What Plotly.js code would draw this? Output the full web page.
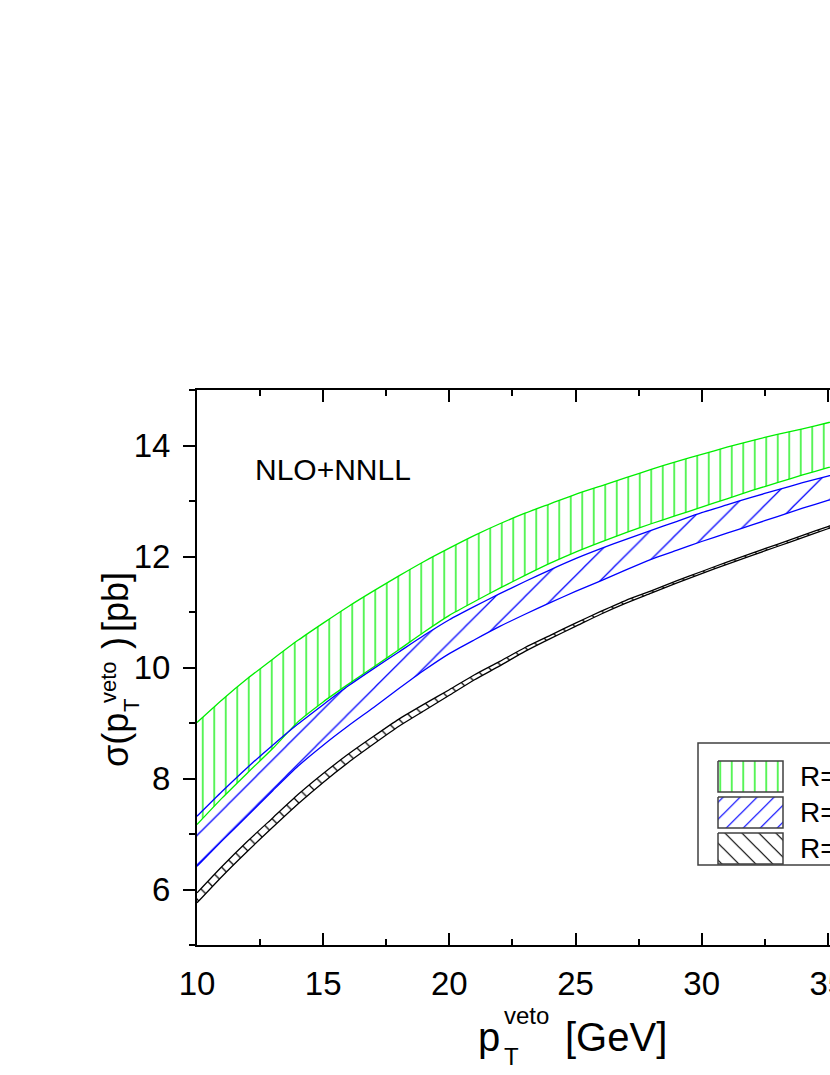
<!DOCTYPE html>
<html><head><meta charset="utf-8">
<script src="https://cdn.plot.ly/plotly-3.0.1.min.js"></script>
<style>
html,body{margin:0;padding:0;overflow:hidden;background:#fff;width:830px;height:1075px}
#plot{width:1014px;height:1075px}
</style>
</head><body><div id="plot"></div>
<script>
// ---- data ----
const ptVeto = [10,11,12,13,14,15,16,17,18,19,20,21,22,23,24,25,26,27,28,29,30,31,32,33,34,35,36,37,38,39,40];

const greenUpper = [9.01,9.42,9.80,10.15,10.49,10.80,11.10,11.38,11.65,11.91,12.15,12.38,12.59,12.78,12.95,13.12,13.27,13.42,13.57,13.71,13.84,13.97,14.09,14.20,14.30,14.41,14.51,14.61,14.70,14.79,14.88];
const greenLower = [7.17,7.65,8.10,8.54,9.02,9.38,9.70,10.01,10.32,10.64,10.94,11.19,11.43,11.66,11.88,12.08,12.26,12.43,12.59,12.74,12.89,13.04,13.19,13.33,13.47,13.60,13.72,13.84,13.95,14.06,14.16];

const blueUpper = [7.32,7.77,8.20,8.60,8.98,9.33,9.67,9.98,10.28,10.58,10.86,11.10,11.33,11.55,11.76,11.96,12.14,12.31,12.47,12.63,12.79,12.93,13.07,13.20,13.33,13.45,13.56,13.67,13.77,13.87,13.97];
const blueLower = [6.42,6.88,7.33,7.78,8.22,8.60,8.95,9.28,9.62,9.95,10.25,10.50,10.74,10.96,11.17,11.37,11.56,11.76,11.95,12.11,12.27,12.42,12.57,12.72,12.87,13.01,13.14,13.27,13.39,13.50,13.61];

const blackUpper = [5.94,6.42,6.87,7.29,7.71,8.09,8.44,8.76,9.07,9.34,9.60,9.87,10.11,10.36,10.58,10.80,11.01,11.21,11.38,11.56,11.73,11.90,12.06,12.22,12.38,12.54,12.69,12.83,12.97,13.10,13.23];
const blackLower = [5.76,6.24,6.69,7.12,7.54,7.93,8.29,8.62,8.94,9.22,9.50,9.78,10.03,10.29,10.52,10.74,10.96,11.16,11.34,11.52,11.69,11.86,12.02,12.18,12.34,12.50,12.65,12.79,12.93,13.06,13.19];

const seriesNames = ['R=0.4','R=0.5','R=0.7'];
const xTicks = [10,15,20,25,30,35,40];
const yTicks = [6,8,10,12,14];
const panelLabel = 'NLO+NNLL';

// ---- styling ----
const FONT = 'Arial, "Liberation Sans", sans-serif';
const GREEN = '#00ee00', BLUE = '#0000ff', BLACK = '#000000';
const W = 1014, H = 1075, ML = 197, MR = 60, MT = 390, MB = 130;
const PW = W - ML - MR, PH = H - MT - MB;
const PX = p => (p - ML) / PW;          // page pixel -> paper x
const PY = p => (H - MB - p) / PH;      // page pixel -> paper y

function band(lo, hi, color, shape, size, sol, name) {
  return [
    {x: ptVeto, y: lo, type:'scatter', mode:'lines', line:{color, width:1.3, shape:'spline', smoothing:0.6},
     showlegend:false, hoverinfo:'skip', name},
    {x: ptVeto, y: hi, type:'scatter', mode:'lines', line:{color, width:1.3, shape:'spline', smoothing:0.6},
     fill:'tonexty', fillcolor:'rgba(0,0,0,0)',
     fillpattern:{shape, size, solidity:sol, fgcolor:color, bgcolor:'rgba(0,0,0,0)', fgopacity:1},
     showlegend:false, hoverinfo:'skip', name}
  ];
}

const data = [
  ...band(greenLower, greenUpper, GREEN, '|', 11.5, 0.11, seriesNames[0]),
  ...band(blueLower, blueUpper, BLUE, '/', 21, 0.06, seriesNames[1]),
  ...band(blackLower, blackUpper, BLACK, '\\', 10, 0.12, seriesNames[2]),
];

// legend swatches drawn on an overlay axis in page pixels
const sw = [
  {y0:761, y1:792, color:GREEN, shape:'|', size:11.5, sol:0.11},
  {y0:797, y1:828, color:BLUE, shape:'/', size:12, sol:0.1},
  {y0:833, y1:864, color:BLACK, shape:'\\', size:12, sol:0.1},
];
sw.forEach(s => {
  data.push({x:[718,783,783,718,718], y:[s.y0,s.y0,s.y1,s.y1,s.y0], xaxis:'x2', yaxis:'y2',
    type:'scatter', mode:'lines', line:{color:'#404040', width:1.5}, fill:'toself', fillcolor:'rgba(0,0,0,0)',
    fillpattern:{shape:s.shape, size:s.size, solidity:s.sol, fgcolor:s.color, bgcolor:'rgba(0,0,0,0)'},
    showlegend:false, hoverinfo:'skip'});
});

const ann = [];
function A(text, x, y, size, opts) {
  ann.push(Object.assign({text, x:PX(x), y:PY(y), xref:'paper', yref:'paper', showarrow:false,
    font:{family:FONT, size, color:'#000'}, xanchor:'left', yanchor:'middle'}, opts || {}));
}
// panel label
A(panelLabel, 253, 469, 30);
// legend labels
A(seriesNames[0], 798, 776, 28);
A(seriesNames[1], 798, 812, 28);
A(seriesNames[2], 798, 848, 28);
// x-axis title (stacked sub/superscript)
A('p', 476, 1037, 40);
A('veto', 502, 1015, 24);
A('T', 502, 1056, 24);
A('[GeV]', 563, 1037, 40);
// y-axis title, rotated (centres in page pixels)
const R = {textangle:-90, xanchor:'center', yanchor:'middle'};
A('σ(p', 115, 740, 36, R);
A('veto', 108, 682, 22, R);
A('T', 131, 706, 22, R);
A(')', 115, 643, 36, R);
A('[pb]', 115, 602, 36, R);

const layout = {
  width: W, height: H,
  margin: {l:ML, r:MR, t:MT, b:MB, pad:0},
  paper_bgcolor:'#fff', plot_bgcolor:'#fff',
  showlegend:false,
  font:{family:FONT, color:'#000'},
  xaxis: {
    range:[10,40], tickvals:xTicks, ticktext:xTicks.map(String),
    ticks:'inside', ticklen:12, tickwidth:2, tickcolor:'#000',
    minor:{dtick:2.5, tick0:10, ticks:'inside', ticklen:6, tickwidth:2, tickcolor:'#000', showgrid:false},
    showline:true, linewidth:2, linecolor:'#000', mirror:'ticks',
    showgrid:false, zeroline:false, tickfont:{family:FONT, size:33}, ticklabelstandoff:8
  },
  yaxis: {
    range:[5,15], tickvals:yTicks, ticktext:yTicks.map(String),
    ticks:'outside', ticklen:12, tickwidth:2, tickcolor:'#000',
    minor:{dtick:1, tick0:5, ticks:'outside', ticklen:6, tickwidth:2, tickcolor:'#000', showgrid:false},
    showline:true, linewidth:2, linecolor:'#000', mirror:'ticks',
    showgrid:false, zeroline:false, tickfont:{family:FONT, size:33}, ticklabelstandoff:6
  },
  xaxis2: {domain:[0,1], range:[ML, ML+PW], overlaying:'x', anchor:'y2', visible:false, fixedrange:true},
  yaxis2: {domain:[0,1], range:[H-MB, MT], overlaying:'y', anchor:'x2', visible:false, fixedrange:true},
  shapes: [
    {type:'rect', xref:'paper', yref:'paper', x0:PX(698), x1:PX(945), y0:PY(743), y1:PY(865),
     line:{color:'#404040', width:1.5}, fillcolor:'rgba(0,0,0,0)', layer:'above'}
  ],
  annotations: ann
};

Plotly.newPlot('plot', data, layout, {displayModeBar:false, responsive:false, staticPlot:true});
</script>
</body></html>
